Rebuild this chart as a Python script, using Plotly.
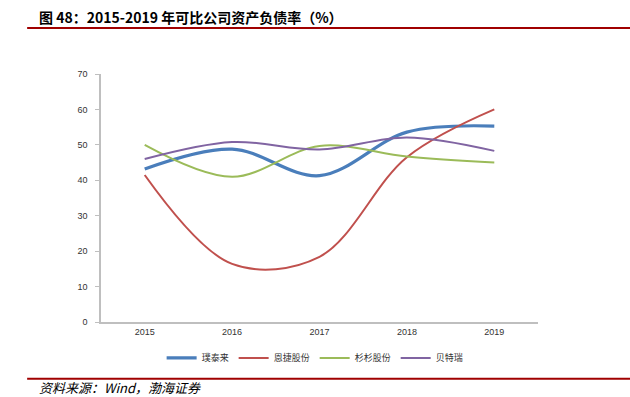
import plotly.graph_objects as go

years = ["2015", "2016", "2017", "2018", "2019"]
names = ["璞泰来", "恩捷股份", "杉杉股份", "贝特瑞"]
s_putailai = [43.2, 48.8, 41.3, 53.6, 55.3]
s_enjie = [41.5, 16.4, 18.4, 46.5, 60.0]
s_shanshan = [50.0, 41.0, 49.7, 46.7, 45.0]
s_beiterui = [46.0, 50.8, 48.7, 52.1, 48.3]
y_ticks = [0, 10, 20, 30, 40, 50, 60, 70]

series = [s_putailai, s_enjie, s_shanshan, s_beiterui]
colors = ["#4A7EBB", "#C0504D", "#9BBB59", "#8064A2"]
widths = [3.2, 2, 2, 2]

fig = go.Figure()
for n, s, c, w in zip(names, series, colors, widths):
    fig.add_trace(go.Scatter(
        x=years, y=s, name=n, mode="lines",
        line=dict(color=c, width=w, shape="spline", smoothing=1.0),
    ))

fig.update_layout(
    width=630, height=397,
    margin=dict(l=101, r=92, t=74, b=75),
    paper_bgcolor="white", plot_bgcolor="white",
    font=dict(family="Liberation Sans, Noto Sans CJK SC, sans-serif", size=9, color="#333333"),
    showlegend=True,
    legend=dict(
        orientation="h", x=0.49, xanchor="center", y=-0.145, yanchor="middle",
        font=dict(family="Noto Sans CJK SC", size=9, color="#333333"),
        itemwidth=30, tracegroupgap=0,
    ),
    xaxis=dict(
        type="category", range=[-0.5, 4.5],
        showline=True, linecolor="#BFBFBF", linewidth=1.5,
        showgrid=False, ticks="", zeroline=False,
        tickfont=dict(size=9, color="#333333"),
    ),
    yaxis=dict(
        range=[0, 70], tickvals=y_ticks,
        showline=True, linecolor="#BFBFBF", linewidth=1.5,
        showgrid=False, ticks="outside", ticklen=4, tickcolor="#BFBFBF",
        ticklabelstandoff=6,
        zeroline=False, tickfont=dict(size=9, color="#333333"),
    ),
)

# Title and source
fig.add_annotation(
    text="<b>图 48：2015-2019 年可比公司资产负债率（%）</b>",
    xref="paper", yref="paper", x=-0.147, y=1.228, xanchor="left", yanchor="middle",
    showarrow=False, font=dict(family="Noto Sans CJK SC", size=14, color="#000000"),
)
fig.add_annotation(
    text="<i>资料来源：Wind，渤海证券</i>",
    xref="paper", yref="paper", x=-0.147, y=-0.264, xanchor="left", yanchor="middle",
    showarrow=False, font=dict(family="Noto Sans CJK SC", size=13, color="#000000"),
)
# Decorative rules
fig.add_shape(type="line", xref="paper", yref="paper", x0=-0.169, x1=1.22, y0=1.185, y1=1.185,
              line=dict(color="#A00000", width=2))
fig.add_shape(type="line", xref="paper", yref="paper", x0=-0.169, x1=1.22, y0=-0.229, y1=-0.229,
              line=dict(color="#A00000", width=2))

fig.write_html(
    "out.html",
    config={"displayModeBar": False},
    post_script="document.body.style.margin='0';document.body.style.overflow='hidden';",
)
